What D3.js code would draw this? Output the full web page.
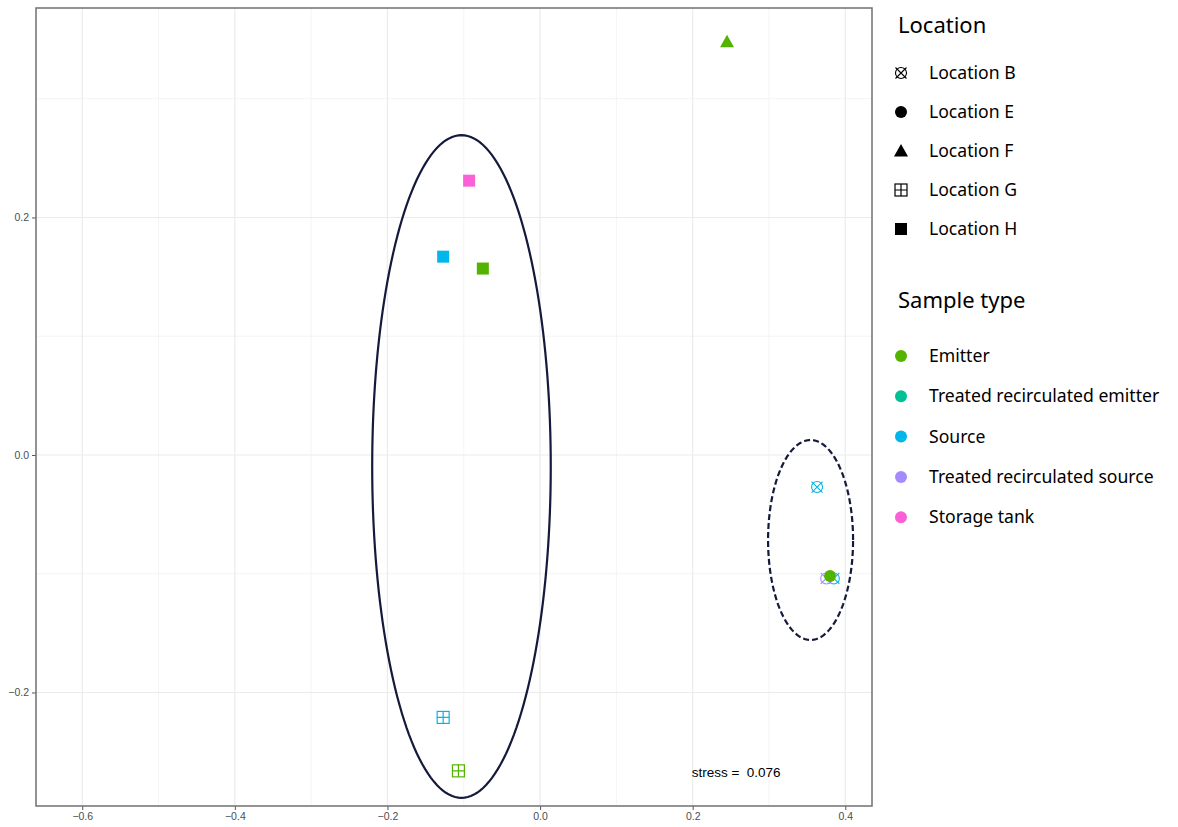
<!DOCTYPE html>
<html>
<head>
<meta charset="utf-8">
<script src="https://cdn.jsdelivr.net/npm/d3@7"></script>
<style>
  body { margin: 0; background: #fff; }
  .tick-label { font-family: "Liberation Sans", Arial, sans-serif; font-size: 10.5px; fill: #4d4d4d; }
  .legend-title { font-family: "Noto Sans", sans-serif; font-size: 22px; fill: #000; }
  .legend-label { font-family: "Noto Sans", sans-serif; font-size: 17.6px; fill: #000; }
  .stress { font-family: "Liberation Sans", Arial, sans-serif; font-size: 13.5px; fill: #000; white-space: pre; }
</style>
</head>
<body>
<div id="chart"></div>
<script>
//chart data
const locations = ["Location B", "Location E", "Location F", "Location G", "Location H"]
const sampleTypes = ["Emitter", "Treated recirculated emitter", "Source", "Treated recirculated source", "Storage tank"]
const typeColors = ["#53B400", "#00C094", "#00B6EB", "#A58AFF", "#FB61D7"]

const pointX = [0.245, -0.093, -0.127, -0.075, -0.127, -0.107, 0.363, 0.385, 0.375, 0.380]
const pointY = [0.348, 0.231, 0.167, 0.157, -0.221, -0.266, -0.027, -0.104, -0.104, -0.102]
const pointLoc = ["Location F", "Location H", "Location H", "Location H", "Location G", "Location G", "Location B", "Location B", "Location B", "Location E"]
const pointType = ["Emitter", "Storage tank", "Source", "Emitter", "Source", "Emitter", "Source", "Source", "Treated recirculated source", "Emitter"]

//ellipses: centre x, centre y, radius x, radius y
const ellipseCx = [-0.103, 0.3545]
const ellipseCy = [-0.0097, -0.0716]
const ellipseRx = [0.117, 0.0557]
const ellipseRy = [0.279, 0.0842]
const ellipseDash = [false, true]

const xTicks = [-0.6, -0.4, -0.2, 0.0, 0.2, 0.4]
const yTicks = [-0.2, 0.0, 0.2]
const xMinor = [-0.5, -0.3, -0.1, 0.1, 0.3]
const yMinor = [-0.1, 0.1, 0.3]

const stressLabel = "stress =  0.076"
const stressX = 0.257
const stressY = -0.268

const width = 1178
const height = 827
const panel = {left: 36, right: 872, top: 8, bottom: 806}

const xScale = d3.scaleLinear()
    .domain([-0.6606, 0.435])
    .range([panel.left, panel.right])

const yScale = d3.scaleLinear()
    .domain([-0.2956, 0.3764])
    .range([panel.bottom, panel.top])

const colorScale = d3.scaleOrdinal()
    .domain(sampleTypes)
    .range(typeColors)

const $svg = d3.select("#chart").append("svg")
    .attr("width", width)
    .attr("height", height)

//grid
const $grid = $svg.append("g")
$grid.selectAll("line.xminor")
    .data(xMinor)
    .enter().append("line")
    .attr("x1", d => xScale(d)).attr("x2", d => xScale(d))
    .attr("y1", panel.top).attr("y2", panel.bottom)
    .attr("stroke", "#f4f4f4").attr("stroke-width", 1)
$grid.selectAll("line.yminor")
    .data(yMinor)
    .enter().append("line")
    .attr("y1", d => yScale(d)).attr("y2", d => yScale(d))
    .attr("x1", panel.left).attr("x2", panel.right)
    .attr("stroke", "#f4f4f4").attr("stroke-width", 1)
$grid.selectAll("line.xmajor")
    .data(xTicks)
    .enter().append("line")
    .attr("x1", d => xScale(d)).attr("x2", d => xScale(d))
    .attr("y1", panel.top).attr("y2", panel.bottom)
    .attr("stroke", "#ebebeb").attr("stroke-width", 1.2)
$grid.selectAll("line.ymajor")
    .data(yTicks)
    .enter().append("line")
    .attr("y1", d => yScale(d)).attr("y2", d => yScale(d))
    .attr("x1", panel.left).attr("x2", panel.right)
    .attr("stroke", "#ebebeb").attr("stroke-width", 1.2)

//axes
const xAxis = g => g.attr("transform", `translate(0, ${panel.bottom})`)
    .call(d3.axisBottom(xScale).tickValues(xTicks).tickFormat(d3.format(".1f")).tickSize(4).tickPadding(3))
const yAxis = g => g.attr("transform", `translate(${panel.left}, 0)`)
    .call(d3.axisLeft(yScale).tickValues(yTicks).tickFormat(d3.format(".1f")).tickSize(4).tickPadding(3))

$svg.append("g").call(xAxis)
$svg.append("g").call(yAxis)
$svg.selectAll(".domain").remove()
$svg.selectAll(".tick line").attr("stroke", "#555")
$svg.selectAll(".tick text").attr("class", "tick-label").attr("font-family", null).attr("font-size", null)

//ellipses
const angles = d3.range(0, 2 * Math.PI + 0.01, Math.PI / 90)
const ellipseLine = d3.line()
ellipseCx.forEach((cx, i) => {
    const pts = angles.map(a => [
        xScale(cx + ellipseRx[i] * Math.cos(a)),
        yScale(ellipseCy[i] + ellipseRy[i] * Math.sin(a))
    ])
    $svg.append("path")
        .attr("d", ellipseLine(pts))
        .attr("fill", "none")
        .attr("stroke", "#141a3c")
        .attr("stroke-width", 2.2)
        .attr("stroke-dasharray", ellipseDash[i] ? "6,3" : null)
})

//symbols
function drawShape(g, loc, color) {
    if (loc == "Location B") {
        g.append("circle").attr("r", 5.5).attr("fill", "none").attr("stroke", color).attr("stroke-width", 1.1)
        g.append("path").attr("d", "M-5.5,-5.5L5.5,5.5M-5.5,5.5L5.5,-5.5").attr("stroke", color).attr("stroke-width", 1.1)
    } else if (loc == "Location E") {
        g.append("circle").attr("r", 6).attr("fill", color)
    } else if (loc == "Location F") {
        g.append("path").attr("d", "M0,-7L7,5.5L-7,5.5Z").attr("fill", color)
    } else if (loc == "Location G") {
        g.append("rect").attr("x", -6).attr("y", -6).attr("width", 12).attr("height", 12)
            .attr("fill", "none").attr("stroke", color).attr("stroke-width", 1.2)
        g.append("path").attr("d", "M0,-6V6M-6,0H6").attr("stroke", color).attr("stroke-width", 1.2)
    } else {
        g.append("rect").attr("x", -6).attr("y", -6).attr("width", 12).attr("height", 12).attr("fill", color)
    }
}

pointX.forEach((px, i) => {
    const g = $svg.append("g")
        .attr("transform", `translate(${xScale(px)}, ${yScale(pointY[i])})`)
    drawShape(g, pointLoc[i], colorScale(pointType[i]))
})

//stress annotation
$svg.append("text")
    .attr("class", "stress")
    .attr("x", xScale(stressX))
    .attr("y", yScale(stressY))
    .attr("text-anchor", "middle")
    .attr("dominant-baseline", "middle")
    .text(stressLabel)

//panel border
$svg.append("rect")
    .attr("x", panel.left).attr("y", panel.top)
    .attr("width", panel.right - panel.left).attr("height", panel.bottom - panel.top)
    .attr("fill", "none").attr("stroke", "#707070").attr("stroke-width", 1.5)

//legends
const $legend = $svg.append("g").attr("transform", "translate(898, 0)")
$legend.append("text").attr("class", "legend-title").attr("x", 0).attr("y", 33).text("Location")
locations.forEach((loc, i) => {
    const y = 73 + i * 39
    const g = $legend.append("g").attr("transform", `translate(3, ${y})`)
    drawShape(g, loc, "#000")
    $legend.append("text").attr("class", "legend-label").attr("x", 31).attr("y", y + 6).text(loc)
})

$legend.append("text").attr("class", "legend-title").attr("x", 0).attr("y", 308).text("Sample type")
sampleTypes.forEach((t, i) => {
    const y = 356 + i * 40.3
    $legend.append("circle").attr("cx", 3).attr("cy", y).attr("r", 6).attr("fill", colorScale(t))
    $legend.append("text").attr("class", "legend-label").attr("x", 31).attr("y", y + 6).text(t)
})
</script>
</body>
</html>
